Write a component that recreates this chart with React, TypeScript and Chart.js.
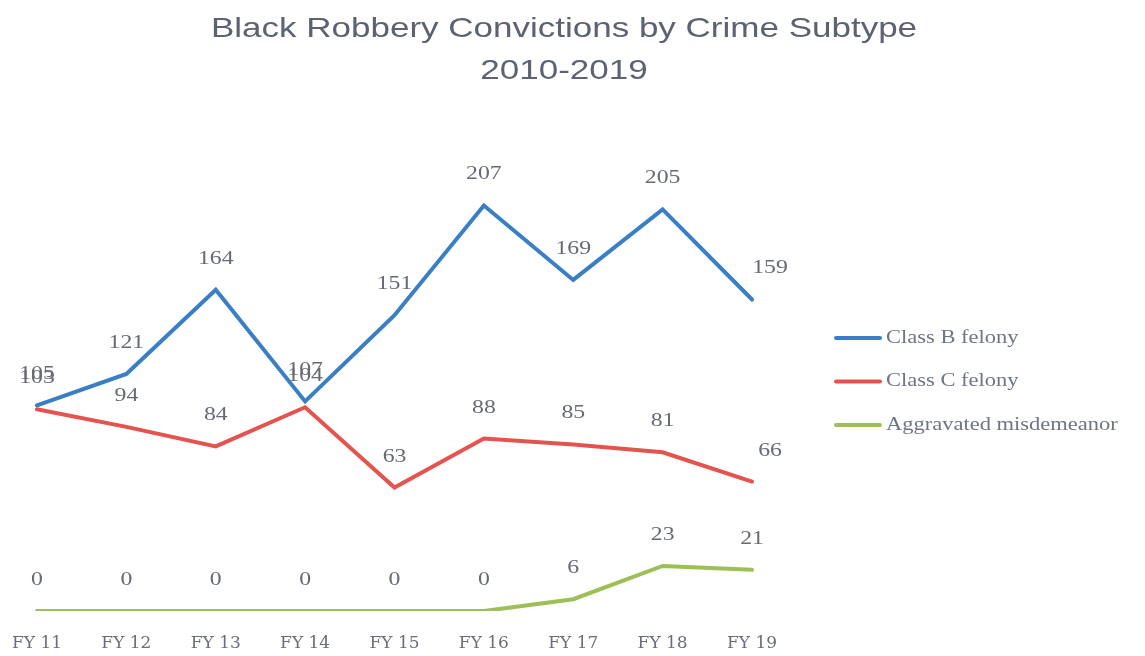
import React, { useEffect, useRef } from "react";
import { Chart, registerables } from "chart.js";

Chart.register(...registerables);

const categories = ["FY 11", "FY 12", "FY 13", "FY 14", "FY 15", "FY 16", "FY 17", "FY 18", "FY 19"];
const classB = [105, 121, 164, 107, 151, 207, 169, 205, 159];
const classC = [103, 94, 84, 104, 63, 88, 85, 81, 66];
const aggravated = [0, 0, 0, 0, 0, 0, 6, 23, 21];
const seriesNames = ["Class B felony", "Class C felony", "Aggravated misdemeanor"];
const titleLines = ["Black Robbery Convictions by Crime Subtype", "2010-2019"];

const BLUE = "#3a7fc5";
const RED = "#e5534f";
const GREEN = "#9dbf55";
const STRETCH = 1.25;

function drawStretched(ctx: CanvasRenderingContext2D, text: string, x: number, y: number, align: CanvasTextAlign) {
  ctx.save();
  ctx.translate(x, y);
  ctx.scale(STRETCH, 1);
  ctx.textAlign = align;
  ctx.textBaseline = "middle";
  ctx.fillText(text, 0, 0);
  ctx.restore();
}

const titlePlugin = {
  id: "stretchedTitle",
  afterDraw(chart: any) {
    const ctx = chart.ctx as CanvasRenderingContext2D;
    ctx.save();
    ctx.fillStyle = "#5c6272";
    ctx.font = "28px 'Liberation Sans', Arial, sans-serif";
    titleLines.forEach((t, i) => drawStretched(ctx, t, 564, 29 + i * 42, "center"));
    ctx.restore();
  },
};

const dataLabelPlugin = {
  id: "pointLabels",
  afterDatasetsDraw(chart: any) {
    const ctx = chart.ctx as CanvasRenderingContext2D;
    ctx.save();
    ctx.fillStyle = "#666a72";
    ctx.font = "19px 'Liberation Serif', 'Times New Roman', serif";
    chart.data.datasets.forEach((ds: any, di: number) => {
      const meta = chart.getDatasetMeta(di);
      const n = meta.data.length;
      meta.data.forEach((pt: any, i: number) => {
        const dx = i === n - 1 && di < 2 ? 18 : 0;
        drawStretched(ctx, String(ds.data[i]), pt.x + dx, pt.y - 31, "center");
      });
    });
    ctx.restore();
  },
};

const legendPlugin = {
  id: "sideLegend",
  afterDraw(chart: any) {
    const ctx = chart.ctx as CanvasRenderingContext2D;
    ctx.save();
    chart.data.datasets.forEach((ds: any, i: number) => {
      const y = 338 + i * 43.5;
      ctx.strokeStyle = ds.borderColor;
      ctx.lineWidth = 4;
      ctx.lineCap = "round";
      ctx.beginPath();
      ctx.moveTo(836, y);
      ctx.lineTo(880, y);
      ctx.stroke();
      ctx.fillStyle = "#6f7585";
      ctx.font = "18px 'Liberation Serif', 'Times New Roman', serif";
      drawStretched(ctx, ds.label, 886, y, "left");
    });
    ctx.restore();
  },
};

export default function App() {
  const ref = useRef<HTMLCanvasElement | null>(null);

  useEffect(() => {
    if (!ref.current) return;
    const chart = new Chart(ref.current, {
      type: "line",
      data: {
        labels: categories,
        datasets: [
          { label: seriesNames[0], data: classB, borderColor: BLUE, backgroundColor: BLUE },
          { label: seriesNames[1], data: classC, borderColor: RED, backgroundColor: RED },
          { label: seriesNames[2], data: aggravated, borderColor: GREEN, backgroundColor: GREEN },
        ],
      },
      options: {
        responsive: true,
        maintainAspectRatio: false,
        animation: false,
        layout: { padding: { top: 180, left: 37, right: 393, bottom: 0 } },
        elements: {
          line: { borderWidth: 4, tension: 0, borderCapStyle: "round", borderJoinStyle: "miter" },
          point: { radius: 0, hoverRadius: 0 },
        },
        plugins: {
          legend: { display: false },
          title: { display: false },
          tooltip: { enabled: false },
        },
        scales: {
          x: {
            type: "category",
            offset: false,
            grid: { display: false, drawTicks: false },
            border: { display: false },
            ticks: {
              color: "#6a6e78",
              font: { family: "'DejaVu Serif', serif", size: 17 },
              padding: 22,
              maxRotation: 0,
              autoSkip: false,
            },
            afterFit: (s: any) => {
              s.height = 45;
              s.paddingLeft = 0;
              s.paddingRight = 0;
            },
          },
          y: { display: false, min: 0, max: 220 },
        },
      },
      plugins: [titlePlugin, dataLabelPlugin, legendPlugin],
    });
    return () => chart.destroy();
  }, []);

  return (
    <div style={{ position: "absolute", left: 0, top: 0, width: 1145, height: 656, background: "#fff" }}>
      <canvas ref={ref} />
    </div>
  );
}
